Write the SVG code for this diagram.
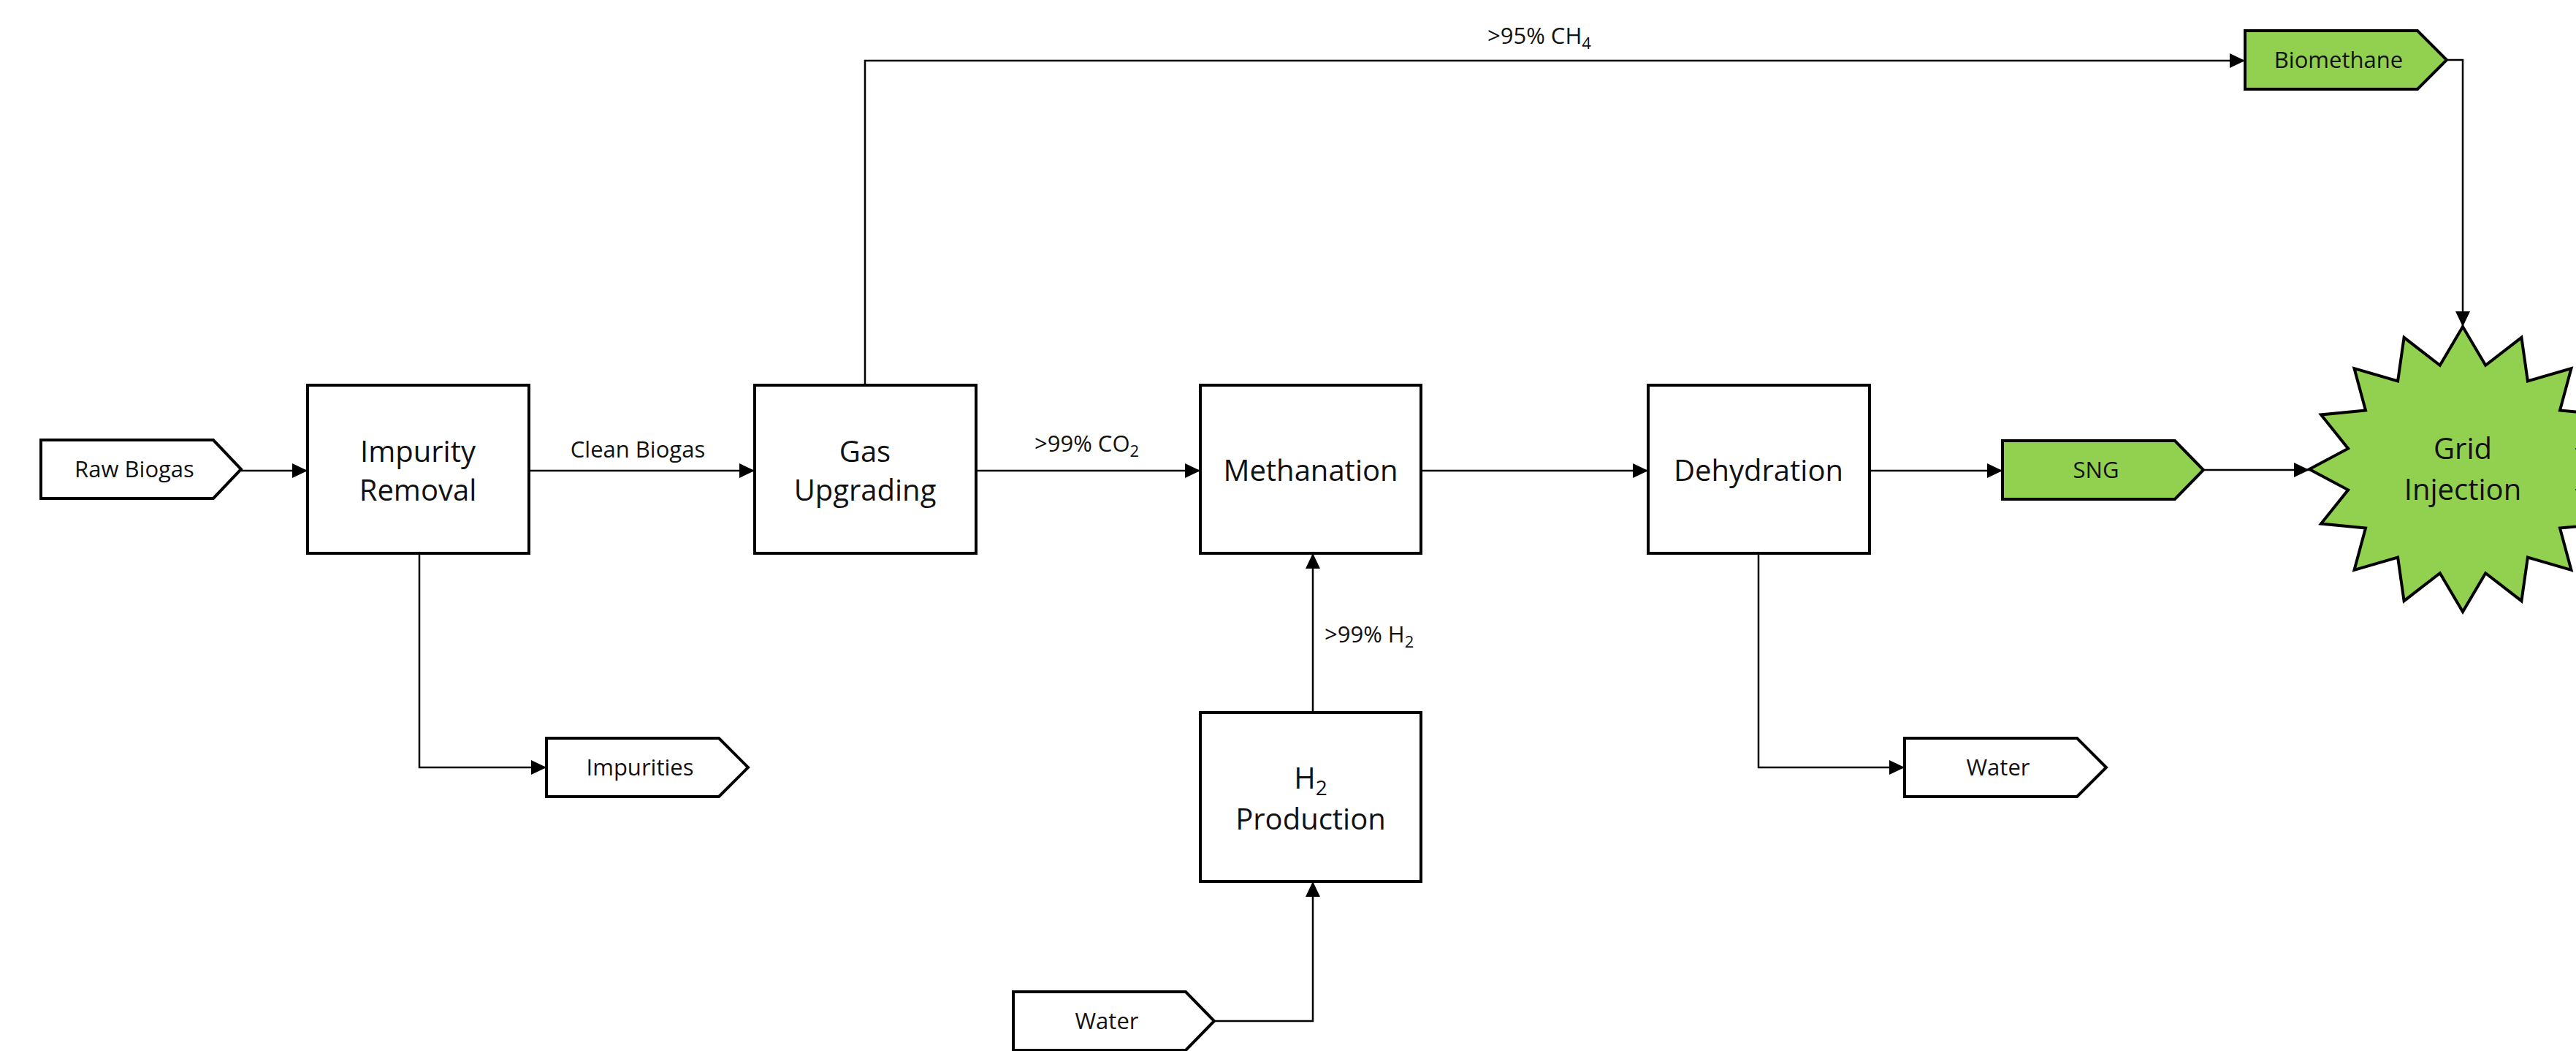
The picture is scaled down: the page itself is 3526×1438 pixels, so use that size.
<svg xmlns="http://www.w3.org/2000/svg" width="3526" height="1438" viewBox="0 0 3526 1438">
<defs>
<style>
.box{fill:#fff;stroke:#000;stroke-width:4}
.term{fill:#fff;stroke:#000;stroke-width:4;stroke-linejoin:miter}
.green{fill:#92D050}
.conn{fill:none;stroke:#000;stroke-width:2.5}
.t40{font-family:"Open Sans","Noto Sans","DejaVu Sans",sans-serif;font-size:40px;fill:#111;text-anchor:middle}
.t32{font-family:"Open Sans","Noto Sans","DejaVu Sans",sans-serif;font-size:31px;fill:#111;text-anchor:middle}
.lbl{font-family:"Open Sans","Noto Sans","DejaVu Sans",sans-serif;font-size:31px;fill:#111}
</style>
<marker id="arr" markerUnits="userSpaceOnUse" markerWidth="22" markerHeight="22" viewBox="0 0 22 22" refX="21" refY="11" orient="auto">
<path d="M0,1 L21,11 L0,21 Z" fill="#000"/>
</marker>
</defs>

<g id="connectors">
<path class="conn" d="M330,644 L421,644" marker-end="url(#arr)"/>
<path class="conn" d="M724,644 L1033,644" marker-end="url(#arr)"/>
<path class="conn" d="M1336,644 L1643,644" marker-end="url(#arr)"/>
<path class="conn" d="M1945,644 L2256,644" marker-end="url(#arr)"/>
<path class="conn" d="M2559,644 L2741,644" marker-end="url(#arr)"/>
<path class="conn" d="M3016,643 L3161,643" marker-end="url(#arr)"/>
<path class="conn" d="M1184,527 L1184,83 L3073,83" marker-end="url(#arr)"/>
<path class="conn" d="M3349,82 L3371,82 L3371,447" marker-end="url(#arr)"/>
<path class="conn" d="M574,757 L574,1050 L748,1050" marker-end="url(#arr)"/>
<path class="conn" d="M1797,975 L1797,757" marker-end="url(#arr)"/>
<path class="conn" d="M1662,1397 L1797,1397 L1797,1206" marker-end="url(#arr)"/>
<path class="conn" d="M2407,757 L2407,1050 L2607,1050" marker-end="url(#arr)"/>
<text class="t32" x="873" y="626">Clean Biogas</text>
<text class="lbl" x="1416" y="618">&gt;99% CO<tspan font-size="22" dy="7">2</tspan></text>
<text class="lbl" x="2036" y="60">&gt;95% CH<tspan font-size="22" dy="7">4</tspan></text>
<text class="lbl" x="1813" y="879">&gt;99% H<tspan font-size="22" dy="7">2</tspan></text>
</g>

<g id="raw-biogas">
<path class="term" d="M56,602 L292,602 L330,642 L292,682 L56,682 Z"/>
<text class="t32" x="184" y="653">Raw Biogas</text>
</g>

<g id="impurity-removal">
<rect class="box" x="421" y="527" width="303" height="230"/>
<text class="t40" x="572" y="632">Impurity</text>
<text class="t40" x="572" y="685">Removal</text>
</g>

<g id="gas-upgrading">
<rect class="box" x="1033" y="527" width="303" height="230"/>
<text class="t40" x="1184" y="632">Gas</text>
<text class="t40" x="1184" y="685">Upgrading</text>
</g>

<g id="methanation">
<rect class="box" x="1643" y="527" width="302" height="230"/>
<text class="t40" x="1794" y="658">Methanation</text>
</g>

<g id="dehydration">
<rect class="box" x="2256" y="527" width="303" height="230"/>
<text class="t40" x="2407" y="658">Dehydration</text>
</g>

<g id="h2-production">
<rect class="box" x="1643" y="975" width="302" height="231"/>
<text class="t40" x="1794" y="1079">H<tspan font-size="28" dy="9">2</tspan></text>
<text class="t40" x="1794" y="1135">Production</text>
</g>

<g id="impurities">
<path class="term" d="M748,1010 L984,1010 L1024,1050 L984,1090 L748,1090 Z"/>
<text class="t32" x="876" y="1061">Impurities</text>
</g>

<g id="water-out">
<path class="term" d="M2607,1010 L2843,1010 L2883,1050 L2843,1090 L2607,1090 Z"/>
<text class="t32" x="2735" y="1061">Water</text>
</g>

<g id="water-in">
<path class="term" d="M1387,1357 L1623,1357 L1662,1397 L1623,1437 L1387,1437 Z"/>
<text class="t32" x="1515" y="1408">Water</text>
</g>

<g id="sng">
<path class="term green" d="M2741,603 L2977,603 L3016,643 L2977,683 L2741,683 Z"/>
<text class="t32" x="2869" y="654">SNG</text>
</g>

<g id="biomethane">
<path class="term green" d="M3073,42 L3309,42 L3349,82 L3309,122 L3073,122 Z"/>
<text class="t32" x="3201" y="93">Biomethane</text>
</g>

<g id="grid-injection">
<path class="term green" d="M3371,447 L3402.2,499.8 L3451.4,461.8 L3459.9,521.4 L3519.5,504.1 L3504,561.4 L3565,567.4 L3527.9,613.7 L3581,642 L3527.9,670.3 L3565,716.6 L3504,722.6 L3519.5,779.9 L3459.9,762.6 L3451.4,822.2 L3402.2,784.2 L3371,837 L3339.8,784.2 L3290.6,822.2 L3282.1,762.6 L3222.5,779.9 L3238,722.6 L3177,716.6 L3214.1,670.3 L3161,642 L3214.1,613.7 L3177,567.4 L3238,561.4 L3222.5,504.1 L3282.1,521.4 L3290.6,461.8 L3339.8,499.8 Z"/>
<text class="t40" x="3371" y="628">Grid</text>
<text class="t40" x="3371" y="684">Injection</text>
</g>
</svg>
